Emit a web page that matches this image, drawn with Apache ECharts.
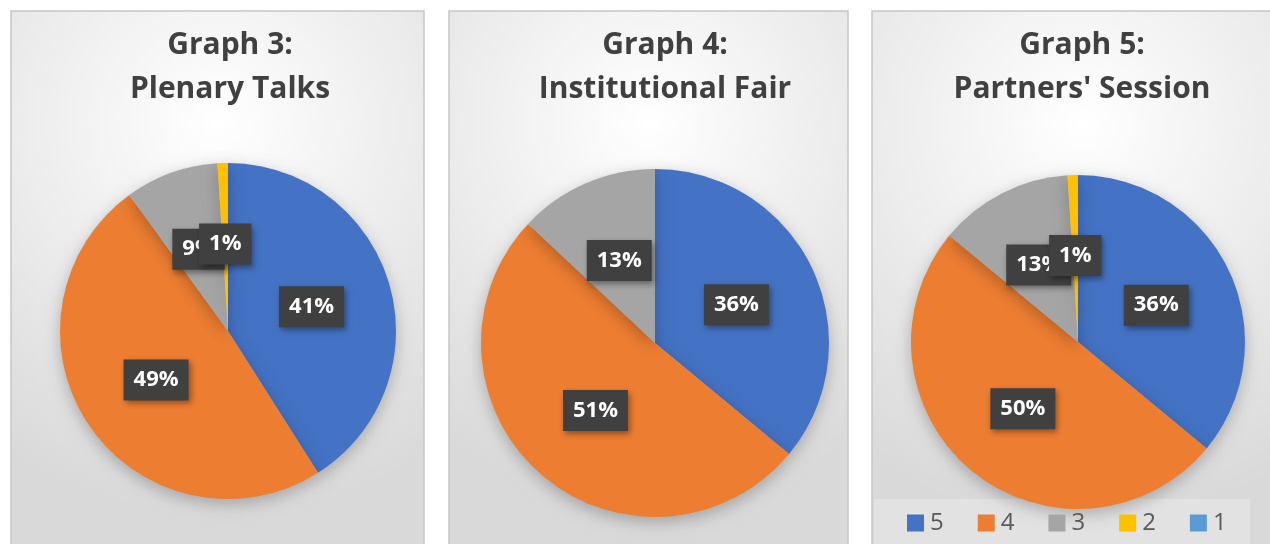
<!DOCTYPE html>
<html lang="en">
<head>
  <meta charset="UTF-8">
  <title>Graphs 3-5</title>
  <script src="https://cdn.jsdelivr.net/npm/echarts@6/dist/echarts.min.js"></script>
  <style>
    html, body { margin: 0; padding: 0; background: #fff; }
    #main { width: 1270px; height: 544px; }
  </style>
</head>
<body>
  <div id="main"></div>
  <script>
    // rating scale, 5 = best
    const ratings = ['5', '4', '3', '2', '1']
    const colors = ['#4472C4', '#ED7D31', '#A5A5A5', '#FFC000', '#5B9BD5']

    const titles = ['Graph 3:\nPlenary Talks', 'Graph 4:\nInstitutional Fair', "Graph 5:\nPartners' Session"]
    const plenary = [41, 49, 9, 1, 0]
    const fair = [36, 51, 13, 0, 0]
    const partners = [36, 50, 13, 1, 0]

    // panel boxes, pie centres/radii and title x
    const panels = [
      { x: 11, w: 413, cx: 228, cy: 331, r: 168, tx: 230, data: plenary },
      { x: 449, w: 399, cx: 655, cy: 343, r: 174, tx: 665, data: fair },
      { x: 872, w: 420, cx: 1078, cy: 342, r: 167, tx: 1082, data: partners }
    ]

    const myChart = echarts.init(document.getElementById('main'))

    const panelFill = {
      type: 'radial', x: 0.5, y: 0.2, r: 0.95,
      colorStops: [{ offset: 0, color: '#ffffff' }, { offset: 1, color: '#d9d9d9' }]
    }

    let option = {
      color: colors,
      animation: false,
      graphic: {
        elements: panels.map(p => ({
          type: 'rect', z: -10, silent: true,
          shape: { x: p.x, y: 11, width: p.w, height: 560 },
          style: { fill: panelFill, stroke: '#c6c6c6', lineWidth: 1.5 }
        })).concat([{
          type: 'rect', z: -5, silent: true,
          shape: { x: 874, y: 499, width: 376, height: 50 },
          style: { fill: 'rgba(255,255,255,0.25)' }
        }])
      },
      title: panels.map((p, i) => ({
        text: titles[i],
        left: p.tx,
        top: 23,
        padding: 0,
        textAlign: 'center',
        textStyle: {
          fontFamily: 'Open Sans', fontWeight: 'bold', fontSize: 30,
          lineHeight: 44, color: '#404040'
        }
      })),
      legend: {
        data: ratings,
        left: 907,
        top: 511,
        padding: 0,
        icon: 'rect',
        itemWidth: 17,
        itemHeight: 17,
        itemGap: 34,
        textStyle: { fontFamily: 'Open Sans', fontSize: 24, color: '#595959', padding: [0, 0, 0, 1] }
      },
      series: panels.map(p => ({
        type: 'pie',
        center: [p.cx, p.cy],
        radius: p.r,
        startAngle: 90,
        clockwise: true,
        avoidLabelOverlap: false,
        labelLayout: { hideOverlap: false },
        itemStyle: { shadowBlur: 16, shadowColor: 'rgba(0,0,0,0.25)', shadowOffsetY: 5 },
        emphasis: { disabled: true },
        label: {
          show: true,
          position: 'inside',
          formatter: '{d}%',
          color: '#fff',
          fontFamily: 'Open Sans',
          fontWeight: 'bold',
          fontSize: 22,
          backgroundColor: '#404040',
          padding: [10, 10, 9, 10],
          shadowBlur: 6,
          shadowColor: 'rgba(0,0,0,0.4)',
          shadowOffsetX: 2,
          shadowOffsetY: 3,
          textShadowBlur: 0
        },
        labelLine: { show: false },
        data: ratings.map((name, k) => ({
          name: name,
          value: p.data[k],
          label: p.data[k] === 0 ? { show: false } : undefined
        }))
      }))
    }

    myChart.setOption(option)
  </script>
</body>
</html>
